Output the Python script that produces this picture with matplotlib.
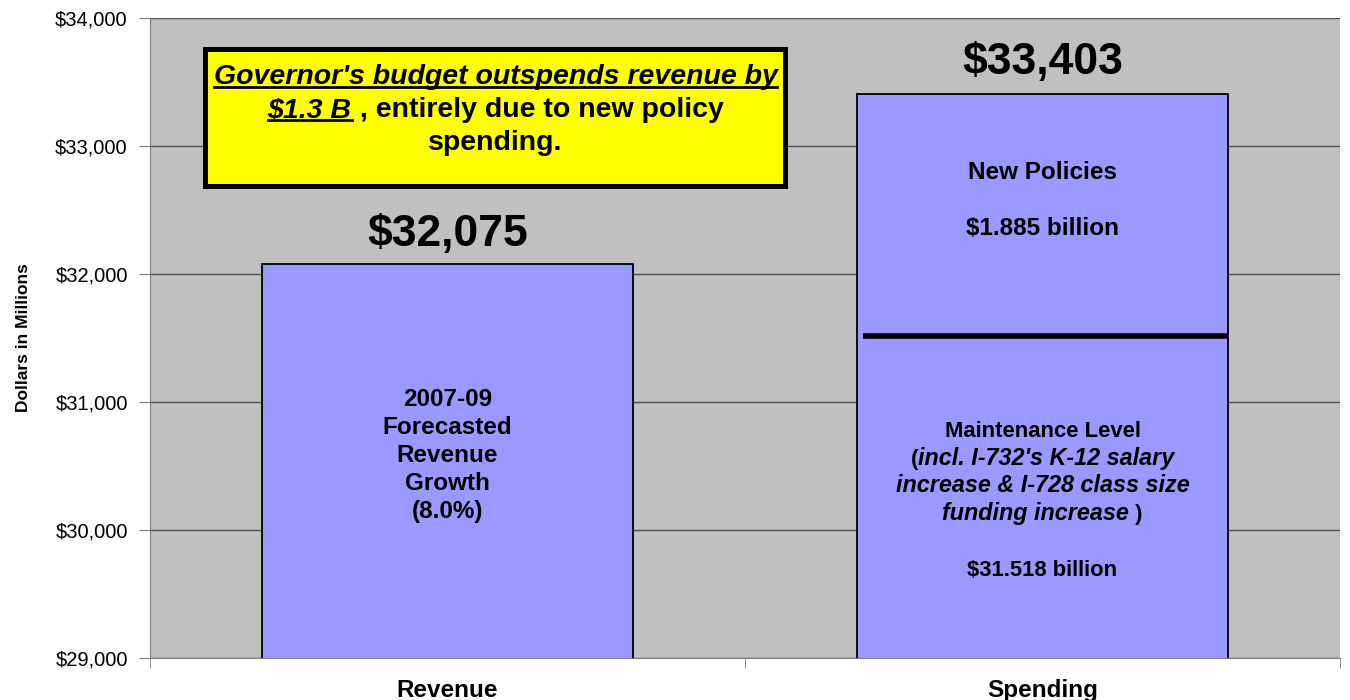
import matplotlib
matplotlib.use('Agg')
import matplotlib.pyplot as plt
from matplotlib.patches import Rectangle
from matplotlib.lines import Line2D
from matplotlib.transforms import IdentityTransform

plt.rcParams['font.family'] = ['Liberation Sans', 'DejaVu Sans']

# data (millions of dollars)
categories = ['Revenue', 'Spending']
revenue_total = 32075
maintenance_level = 31518
new_policies = 1885
spending_total = maintenance_level + new_policies
y_ticks = [29000, 30000, 31000, 32000, 33000, 34000]

bar_color = '#9999FF'
bar_w = 0.625

fig = plt.figure(figsize=(13.5, 7), dpi=100)
ax = fig.add_axes([150 / 1350, 42 / 700, 1190 / 1350, 640 / 700])
ax.set_facecolor('#C0C0C0')
ax.set_xlim(-0.5, 1.5)
ax.set_ylim(y_ticks[0], y_ticks[-1])

# bars
ax.bar(0, revenue_total, width=bar_w, color=bar_color, edgecolor='black', linewidth=1.3, zorder=3)
ax.bar(1, maintenance_level, width=bar_w, color=bar_color, linewidth=0, zorder=3)
ax.bar(1, new_policies, bottom=maintenance_level, width=bar_w, color=bar_color, linewidth=0, zorder=3)
ax.bar(1, spending_total, width=bar_w, fill=False, edgecolor='black', linewidth=1.3, zorder=4)
ax.hlines(maintenance_level, 1 - bar_w / 2 + 0.01, 1 + bar_w / 2, colors='black', linewidth=4, zorder=5)

# axes styling
ax.set_yticks(y_ticks)
ax.set_yticklabels([f"${v:,}" for v in y_ticks], fontsize=14.5)
ax.tick_params(axis='y', length=8, color='#808080', pad=8)
ax.set_xticks([0, 1])
ax.set_xticklabels(categories, fontsize=17.5, fontweight='bold')
ax.set_xticks([-0.5, 0.5, 1.5], minor=True)
ax.tick_params(axis='x', which='major', length=0, pad=15)
ax.tick_params(axis='x', which='minor', length=7, color='#808080')
ax.yaxis.grid(True, color='#505050', linewidth=1)
ax.set_axisbelow(True)
for s in ['top', 'right']:
    ax.spines[s].set_visible(False)
for s in ['left', 'bottom']:
    ax.spines[s].set_color('#808080')
ax.set_ylabel('Dollars in Millions', fontsize=12.5, fontweight='bold')
ax.yaxis.set_label_coords(-0.100, 0.5)

renderer = fig.canvas.get_renderer()


def text_block(xy, coords, lines, size, step, dy0, italic_size=None):
    # lines: list of lists of (text, italic, underline)
    trans = ax.transData if coords == 'data' else ax.transAxes
    base = trans.transform(xy)
    for i, segs in enumerate(lines):
        dy = dy0 - i * step
        arts = []
        for s, it, ul in segs:
            fs = italic_size if (it and italic_size) else size
            t = ax.annotate(s, xy=xy, xycoords=coords, xytext=(0, dy),
                            textcoords='offset pixels', fontsize=fs,
                            fontweight='bold', fontstyle='italic' if it else 'normal',
                            ha='left', va='baseline', annotation_clip=False, zorder=7)
            arts.append(t)
        widths = [t.get_window_extent(renderer).width for t in arts]
        x = -sum(widths) / 2
        for t, w, (s, it, ul) in zip(arts, widths, segs):
            t.xyann = (x, dy)
            if ul:
                yl = base[1] + dy - 3
                fig.add_artist(Line2D([base[0] + x, base[0] + x + w], [yl, yl],
                                      transform=IdentityTransform(), color='black',
                                      linewidth=2, zorder=8))
            x += w


# value labels on top
for i, v in enumerate([revenue_total, spending_total]):
    ax.annotate(f"${v:,}", xy=(i, v), xytext=(0, 18 if i == 0 else 20),
                textcoords='offset pixels', ha='center', va='baseline',
                fontsize=32, fontweight='bold')

# revenue bar text
text_block((0, (y_ticks[0] + revenue_total) / 2), 'data',
           [[('2007-09', False, False)], [('Forecasted', False, False)],
            [('Revenue', False, False)], [('Growth', False, False)],
            [('(8.0%)', False, False)]],
           17.5, 28, 55)

# spending bar texts
text_block((1, maintenance_level + new_policies / 2), 'data',
           [[('New Policies', False, False)], [],
            [(f"${new_policies / 1000:.3f} billion", False, False)]],
           17.5, 28, 36)
text_block((1, (y_ticks[0] + maintenance_level) / 2), 'data',
           [[('Maintenance Level', False, False)],
            [('(', False, False), ("incl. I-732's K-12 salary", True, False)],
            [('increase & I-728 class size', True, False)],
            [('funding increase', True, False), (' )', False, False)],
            [],
            [(f"${maintenance_level / 1000:.3f} billion", False, False)]],
           15.8, 27.8, 60, italic_size=16.8)

# yellow callout box
ax.add_patch(Rectangle((0.0466, 0.737), 0.534 - 0.0466, 0.952 - 0.737,
                       transform=ax.transAxes, facecolor='#FFFF00',
                       edgecolor='black', linewidth=3.6, zorder=6))
text_block((0.2903, 0.8445), 'axes fraction',
           [[("Governor's budget outspends revenue by", True, True)],
            [('$1.3 B', True, True), (' , entirely due to new policy', False, False)],
            [('spending.', False, False)]],
           20.5, 33, 33.5)

fig.savefig('out.png', dpi=100)
